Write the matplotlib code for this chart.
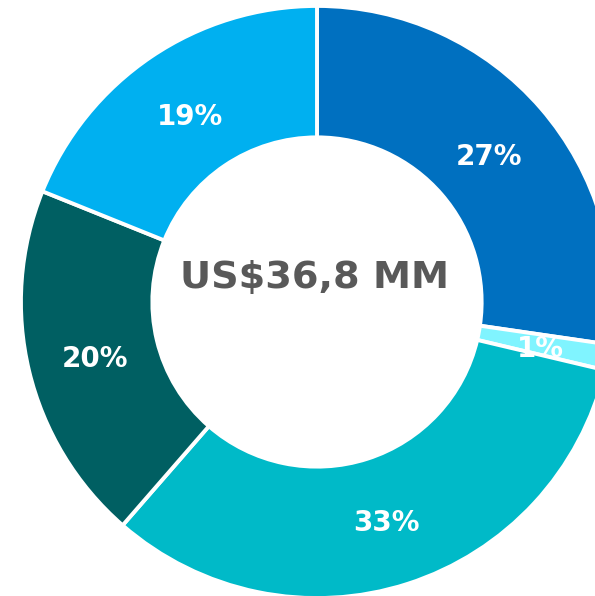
import matplotlib

matplotlib.use("Agg")
import matplotlib.pyplot as plt
import numpy as np

# slice shares (%), clockwise from 12 o'clock
shares = [27.3, 1.4, 32.7, 19.7, 18.9]
labels = ["27%", "1%", "33%", "20%", "19%"]
colors = ["#0070C0", "#80F4FF", "#00BAC8", "#005F62", "#00B0F0"]
total_text = "US$36,8 MM"

plt.rcParams["font.family"] = ["DejaVu Sans"]

fig = plt.figure(figsize=(5.95, 5.96), dpi=100)
ax = fig.add_axes([0, 0, 1, 1])

outer = 1.007
ring = 0.447
wedges, _ = ax.pie(
    shares,
    radius=outer,
    startangle=90,
    counterclock=False,
    colors=colors,
    wedgeprops=dict(width=ring, edgecolor="white", linewidth=2.8),
)

# percentage labels in the middle of the ring (nudged down a touch)
label_r = 0.775
for w, lab in zip(wedges, labels):
    ang = np.deg2rad((w.theta1 + w.theta2) / 2)
    ax.text(
        label_r * np.cos(ang),
        label_r * np.sin(ang) - 0.013,
        lab,
        ha="center",
        va="center",
        color="white",
        fontsize=20,
        fontweight="bold",
    )

ax.text(
    -0.01,
    0.083,
    total_text,
    ha="center",
    va="center",
    color="#595959",
    fontsize=27.5,
    fontweight="bold",
)

# circle centre sits at (317, 302) px with a 294 px radius; right/bottom clipped
ax.set_xlim(-317 / 294, (595 - 317) / 294)
ax.set_ylim(-(596 - 302) / 294, 302 / 294)
ax.set_aspect("auto")
ax.axis("off")

fig.savefig("out.png", dpi=100, facecolor="white")
